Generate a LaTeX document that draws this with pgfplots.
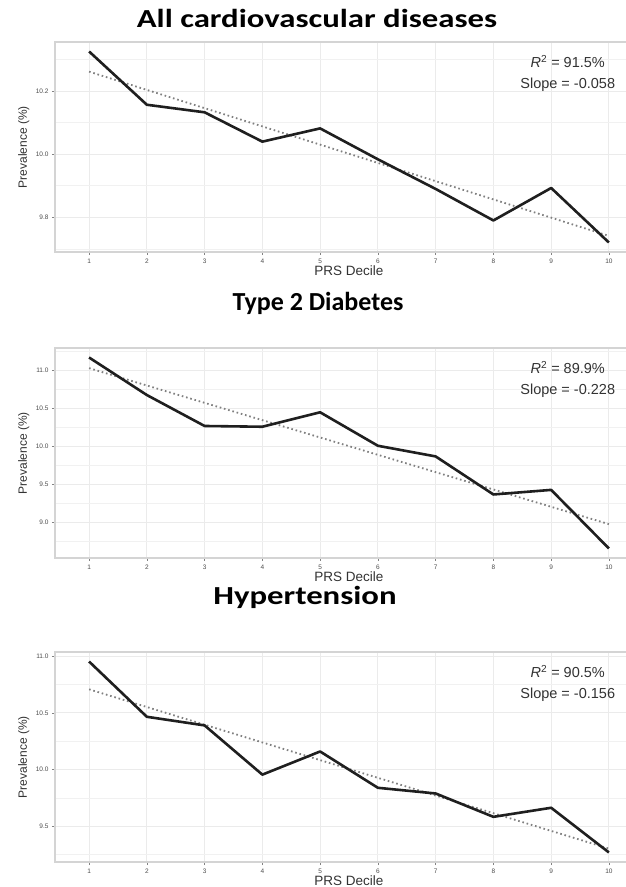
\documentclass[border=0pt]{standalone}
\usepackage{fontspec}
\setmainfont{Liberation Sans}
\newfontfamily\titlefont{Carlito}
\usepackage{graphicx}
\usepackage{pgfplots}
\pgfplotsset{compat=1.18}
\definecolor{gridc}{HTML}{EBEBEB}
\definecolor{framec}{HTML}{D4D4D4}
\definecolor{tickc}{HTML}{4D4D4D}
\definecolor{trendc}{HTML}{808080}
\pgfplotsset{panel/.style={
  scale only axis, width=588pt, height=210pt,
  xmin=0.41, xmax=10.59,
  xtick={1,...,10},
  axis line style={draw=framec, line width=1.3pt},
  grid=both,
  major grid style={draw=gridc, line width=0.9pt},
  minor grid style={draw=gridc!70, line width=0.6pt},
  xtick pos=lower, ytick pos=left,
  tick style={draw=tickc!70, line width=0.5pt},
  tick align=outside, major tick length=3pt, minor tick length=0pt,
  ticklabel style={font=\fontsize{6.5}{7.5}\selectfont, text=tickc},
  /pgf/number format/assume math mode=true,
  yticklabel style={/pgf/number format/.cd, fixed, fixed zerofill, precision=1},
  xlabel={PRS Decile}, ylabel={Prevalence (\%)},
  xlabel style={font=\fontsize{13.5}{15}\selectfont, text=black!80, at={(axis description cs:0.5,0)}, anchor=center, yshift=-19pt},
  ylabel style={font=\fontsize{12}{14}\selectfont, text=black!80, at={(axis description cs:-0.053,0.5)}, anchor=center},
  anchor=south west,
}}
\tikzset{dataline/.style={black!88, line width=2.6pt, line join=round},
  trendline/.style={trendc, line width=1.8pt, dash pattern=on 1.6pt off 2.8pt}}
\newcommand{\annot}[2]{\node[align=center, font=\fontsize{14.5}{21.5}\selectfont, text=black!80] at (axis description cs:0.872,0.85) {\textit{R}\textsuperscript{2} = #1\\Slope = #2};}
\begin{document}
\begin{tikzpicture}
\useasboundingbox (0pt,0pt) rectangle (626pt,887pt);
\clip (0pt,0pt) rectangle (626pt,887pt);
\fill[white] (0pt,0pt) rectangle (626pt,887pt);
% Panel 1
\node[anchor=center] at (317pt,869pt) {\scalebox{1.26}[1]{\titlefont\bfseries\fontsize{26}{30}\selectfont All cardiovascular diseases}};
\begin{axis}[panel, at={(55pt,635pt)}, ymin=9.69, ymax=10.356,
  ytick={9.8,10.0,10.2}, minor ytick={9.7,9.9,10.1,10.3}]
\addplot[trendline] coordinates {(1,10.262) (10,9.741)};
\addplot[dataline] coordinates {(1,10.326) (2,10.157) (3,10.133) (4,10.040) (5,10.082) (6,9.984) (7,9.890) (8,9.790) (9,9.893) (10,9.720)};
\annot{91.5\%}{-0.058}
\end{axis}
% Panel 2
\node[anchor=center] at (318pt,584pt) {\scalebox{1.0}[1]{\titlefont\bfseries\fontsize{26}{30}\selectfont Type 2 Diabetes}};
\begin{axis}[panel, at={(55pt,329pt)}, ymin=8.535, ymax=11.295,
  ytick={9.0,9.5,10.0,10.5,11.0}, minor ytick={8.75,9.25,9.75,10.25,10.75,11.25}]
\addplot[trendline] coordinates {(1,11.03) (10,8.98)};
\addplot[dataline] coordinates {(1,11.17) (2,10.677) (3,10.27) (4,10.26) (5,10.45) (6,10.01) (7,9.87) (8,9.37) (9,9.43) (10,8.66)};
\annot{89.9\%}{-0.228}
\end{axis}
% Panel 3
\node[anchor=center] at (305pt,290pt) {\scalebox{1.26}[1]{\titlefont\bfseries\fontsize{26}{30}\selectfont Hypertension}};
\begin{axis}[panel, at={(55pt,25pt)}, ymin=9.186, ymax=11.037,
  ytick={9.5,10.0,10.5,11.0}, minor ytick={9.25,9.75,10.25,10.75}]
\addplot[trendline] coordinates {(1,10.708) (10,9.304)};
\addplot[dataline] coordinates {(1,10.953) (2,10.466) (3,10.39) (4,9.956) (5,10.16) (6,9.84) (7,9.79) (8,9.584) (9,9.664) (10,9.27)};
\annot{90.5\%}{-0.156}
\end{axis}
\end{tikzpicture}
\end{document}
